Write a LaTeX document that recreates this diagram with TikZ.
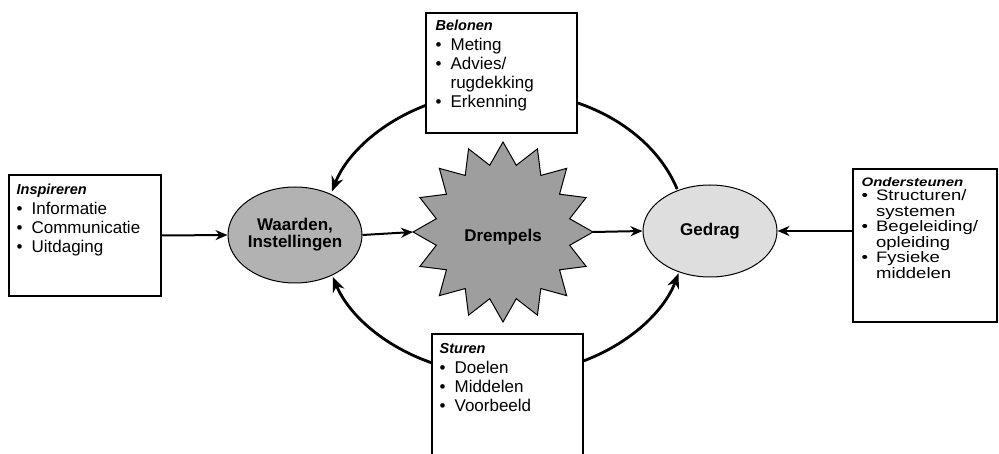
\documentclass[tikz,border=0pt]{standalone}
\usepackage{fontspec}
\setmainfont{Liberation Sans}
\usepackage{graphicx}
\usetikzlibrary{shapes.geometric,arrows.meta,calc}
\newcommand\boxtitle[1]{{\fontsize{14.5}{16}\selectfont\bfseries\itshape #1}}
\begin{document}
\begin{tikzpicture}[x=1pt,y=1pt,
  box/.style={draw, line width=1.1pt, inner sep=0pt, rectangle},
  blob/.style={draw, line width=1pt, ellipse, inner sep=0pt, minimum width=134pt,
    font=\fontsize{17}{17}\selectfont\bfseries, align=center},
  arr/.style={line width=2pt, -{Stealth[length=12pt,width=10pt]}},
  ringline/.style={line width=2.8pt},
  ringarr/.style={ringline, -{Stealth[length=15pt,width=12pt]}},
  txt/.style={anchor=base west, inner sep=0pt, font=\fontsize{17}{18.8}\selectfont}
]
\useasboundingbox (0,0) rectangle (999,453);

% boxes
\node[box, minimum width=152pt, minimum height=121pt] (insp) at (85,217.5) {};
\node[box, minimum width=151pt, minimum height=120pt] (belonen) at (501.5,380) {};
\node[box, minimum width=144pt, minimum height=153pt] (onder) at (925,207.5) {};
\node[box, minimum width=151pt, minimum height=136pt] (sturen) at (507.5,51) {};

% box texts
\node[txt] (insptext) at ($(insp.north west)+(8,-20)$) {\begin{tabular}[t]{@{}l@{\hspace{9pt}}l@{}}
\multicolumn{2}{@{}l@{}}{\boxtitle{Inspireren}}\\[1.5pt]
\textbullet & Informatie\\
\textbullet & Communicatie\\
\textbullet & Uitdaging
\end{tabular}};

\node[txt] (belonentext) at ($(belonen.north west)+(10,-18)$) {\begin{tabular}[t]{@{}l@{\hspace{9pt}}l@{}}
\multicolumn{2}{@{}l@{}}{\boxtitle{Belonen}}\\[1.5pt]
\textbullet & Meting\\
\textbullet & Advies/\\
 & rugdekking\\
\textbullet & Erkenning
\end{tabular}};

\node[txt] (sturentext) at ($(sturen.north west)+(8,-20)$) {\begin{tabular}[t]{@{}l@{\hspace{9pt}}l@{}}
\multicolumn{2}{@{}l@{}}{\boxtitle{Sturen}}\\[1.5pt]
\textbullet & Doelen\\
\textbullet & Middelen\\
\textbullet & Voorbeeld
\end{tabular}};

\node[txt, font=\fontsize{18.5}{18.8}\selectfont] (ondertext) at ($(onder.north west)+(9,-18)$) {\scalebox{1}[0.82]{\begin{tabular}[t]{@{}l@{\hspace{8pt}}l@{}}
\multicolumn{2}{@{}l@{}}{{\fontsize{15}{16}\selectfont\bfseries\itshape Ondersteunen}}\\[-1.7pt]
\textbullet & Structuren/\\
 & systemen\\
\textbullet & Begeleiding/\\
 & opleiding\\
\textbullet & Fysieke\\
 & middelen
\end{tabular}}};

% central shapes
\node[blob, fill=black!30, minimum height=96pt] (waarden) at (295,218) {Waarden,\\Instellingen};
\node[blob, fill=black!13, minimum height=92pt] (gedrag) at (710,222) {Gedrag};

% Drempels star (16 points)
\filldraw[shift={(503,221)}, line width=1pt, fill=black!38]
  plot[samples at={0,...,31}, variable=\k] ({90+\k*11.25}:{90-22*mod(\k,2)}) -- cycle;
\coordinate (dleft) at (413,221);
\coordinate (dright) at (593,221);
\node[font=\fontsize{17}{17}\selectfont\bfseries, inner sep=0pt] (drempels) at (503,216) {Drempels};

% straight arrows
\draw[arr] (insp.east) -- (waarden.west);
\draw[arr] (waarden.east) -- (dleft);
\draw[arr] (dright) -- (gedrag.west);
\draw[arr] (gedrag.east -| onder.west) -- (gedrag.east);

% ring arcs
\coordinate (ring) at (505,220);
\draw[ringarr] ($(ring)+(115.9:181pt and 142pt)$) arc[start angle=115.9, end angle=163, x radius=181pt, y radius=142pt];
\draw[ringline] ($(ring)+(66.5:181pt and 142pt)$) arc[start angle=66.5, end angle=18, x radius=181pt, y radius=142pt];
\draw[ringarr] ($(ring)+(246:181pt and 142pt)$) arc[start angle=246, end angle=198, x radius=181pt, y radius=142pt];
\draw[ringarr] ($(ring)+(295.5:181pt and 142pt)$) arc[start angle=295.5, end angle=343.5, x radius=181pt, y radius=142pt];
\end{tikzpicture}
\end{document}
